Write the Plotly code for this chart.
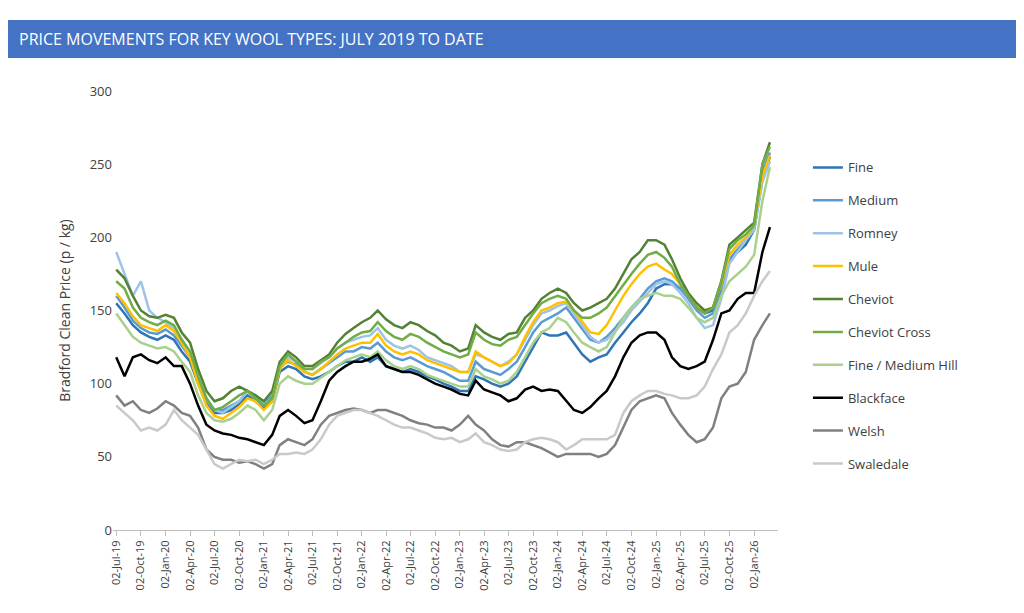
import pandas as pd
import plotly.graph_objects as go

# monthly readings, Jul 2019 .. Mar 2026 (p / kg)
fine = [155,148,140,135,132,130,
        133,130,122,115,100,86,80,80,82,86,92,88,
        83,88,108,112,110,105,103,105,108,112,115,115,
        118,115,118,112,110,108,110,108,105,103,100,98,
        95,95,105,103,100,98,100,105,115,125,135,133,
        133,135,128,120,115,118,120,128,135,142,148,155,
        165,168,168,165,160,152,148,150,165,185,190,195,
        205,240,255]
medium = [160,152,143,138,135,134,
          137,133,126,118,102,88,82,82,85,88,95,90,
          86,92,112,115,113,108,106,110,114,118,122,122,
          125,124,128,122,118,116,118,115,112,110,108,105,
          102,102,115,110,108,106,110,115,125,135,142,145,
          148,152,145,138,130,128,132,138,145,152,158,165,
          170,172,170,165,158,150,145,148,162,185,192,198,
          208,245,258]
romney = [190,175,160,170,150,145,
          142,138,130,122,105,90,82,80,84,88,95,92,
          86,90,110,118,115,110,110,114,118,124,128,130,
          132,133,138,130,126,124,126,123,118,116,114,112,
          108,108,120,118,115,112,115,120,130,140,148,150,
          153,155,148,140,132,128,130,136,142,150,156,162,
          168,170,168,162,155,145,138,140,158,182,190,198,
          205,238,252]
mule = [162,155,146,140,138,136,
        140,136,128,118,100,85,78,76,80,84,90,88,
        82,88,110,116,112,108,106,110,115,120,124,126,
        128,128,134,126,122,120,122,120,116,114,112,110,
        108,108,122,118,115,112,114,120,132,142,150,152,
        155,156,150,142,135,134,140,150,160,168,175,180,
        182,178,175,168,160,152,150,152,168,188,195,200,
        208,242,256]
cheviot = [178,172,160,150,146,145,
           147,145,135,128,110,95,88,90,95,98,95,92,
           88,95,115,122,118,112,112,116,120,128,134,138,
           142,145,150,144,140,138,142,140,136,133,128,126,
           122,124,140,135,132,130,134,135,145,150,158,162,
           165,162,155,150,152,155,158,165,175,185,190,198,
           198,195,185,172,162,155,150,152,170,195,200,205,
           210,250,265]
cheviot_cross = [170,165,152,145,142,140,
                 143,140,130,122,105,90,82,84,88,92,95,90,
                 85,90,112,120,115,110,110,115,118,124,128,132,
                 135,136,142,136,132,130,134,132,128,125,122,120,
                 118,120,135,130,127,126,130,132,140,148,155,158,
                 160,158,150,145,145,148,152,160,168,175,182,188,
                 190,186,180,168,160,152,148,152,170,192,198,202,
                 208,250,262]
fine_med_hill = [148,140,132,128,126,124,
                 125,122,115,108,92,80,75,74,76,80,85,82,
                 75,82,100,105,102,100,100,104,108,112,116,118,
                 120,118,122,116,112,110,112,110,106,104,102,100,
                 98,98,110,105,103,100,102,108,118,128,135,138,
                 145,142,135,128,125,122,125,135,145,152,158,160,
                 162,160,160,158,152,145,142,145,160,170,175,180,
                 188,225,248]
blackface = [118,105,118,120,116,114,
             118,112,112,100,85,72,68,66,65,63,62,60,
             58,65,78,82,78,73,75,88,102,108,112,115,
             115,117,120,112,110,108,108,106,103,100,98,96,
             93,92,102,96,94,92,88,90,96,98,95,96,
             95,88,82,80,84,90,95,105,118,128,133,135,
             135,130,118,112,110,112,115,130,148,150,158,162,
             162,190,207]
welsh = [92,85,88,82,80,83,
         88,85,80,78,70,55,50,48,48,46,47,45,
         42,45,58,62,60,58,62,72,78,80,82,83,
         82,80,82,82,80,78,75,73,72,70,70,68,
         72,78,72,68,62,58,57,60,60,58,56,53,
         50,52,52,52,52,50,52,58,70,82,88,90,
         92,90,80,72,65,60,62,70,90,98,100,108,
         130,140,148]
swaledale = [85,80,75,68,70,68,
             72,82,75,70,65,55,45,42,45,48,47,48,
             45,48,52,52,53,52,55,62,72,78,80,82,
             82,80,78,75,72,70,70,68,66,63,62,63,
             60,62,66,60,58,55,54,55,60,62,63,62,
             60,55,58,62,62,62,62,65,80,88,92,95,
             95,93,92,90,90,92,98,110,120,135,140,148,
             160,170,177]

dates = pd.date_range("2019-07-01", periods=len(fine), freq="MS") + pd.Timedelta(days=1)

series = [
    ("Fine", fine, "#2E75B6"),
    ("Medium", medium, "#5B9BD5"),
    ("Romney", romney, "#9DC3E6"),
    ("Mule", mule, "#FFC000"),
    ("Cheviot", cheviot, "#548235"),
    ("Cheviot Cross", cheviot_cross, "#70AD47"),
    ("Fine / Medium Hill", fine_med_hill, "#A9D18E"),
    ("Blackface", blackface, "#000000"),
    ("Welsh", welsh, "#808080"),
    ("Swaledale", swaledale, "#C9C9C9"),
]

fig = go.Figure()
for name, vals, col in series:
    fig.add_trace(go.Scatter(x=dates, y=vals, name=name, mode="lines", legendgroup=name,
                             line=dict(color=col, width=2.5)))

fig.update_layout(
    width=1024, height=613,
    paper_bgcolor="white", plot_bgcolor="white",
    margin=dict(l=105, r=254, t=83, b=91, autoexpand=False),
    font=dict(family="Open Sans", size=13, color="#404040"),
    legend=dict(x=1.045, y=0.86, yanchor="top", tracegroupgap=13,
                font=dict(size=13, color="#404040"), itemwidth=30),
    showlegend=True,
)
fig.update_xaxes(range=["2019-06-20", "2026-04-01"], tick0="2019-07-02", dtick="M3",
                 tickformat="%d-%b-%y", tickangle=-90, showgrid=False,
                 showline=True, linecolor="#BFBFBF", ticks="outside",
                 tickcolor="#BFBFBF", tickfont=dict(size=11))
fig.update_yaxes(range=[0, 300], dtick=50, showgrid=False, zeroline=False,
                 title=dict(text="Bradford Clean Price (p / kg)", font=dict(size=14)),
                 tickfont=dict(size=13))

# title banner
fig.add_shape(type="rect", xref="paper", yref="paper", layer="below",
              x0=-0.158, x1=1.382, y0=1.075, y1=1.162,
              fillcolor="#4472C4", line=dict(width=0))
fig.add_annotation(xref="paper", yref="paper", x=-0.145, y=1.118, xanchor="left",
                   yanchor="middle",
                   text="PRICE MOVEMENTS FOR KEY WOOL TYPES: JULY 2019 TO DATE",
                   showarrow=False, font=dict(color="white", size=16, family="Open Sans"))

fig.write_html("out.html")
